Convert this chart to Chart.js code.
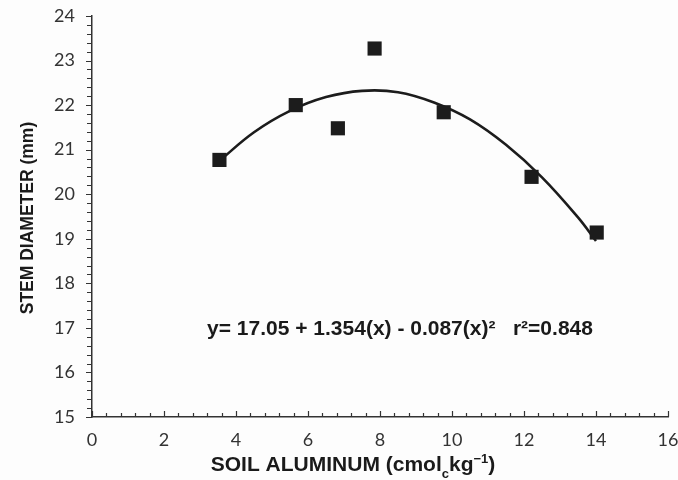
<!DOCTYPE html>
<html>
<head>
<meta charset="utf-8">
<script src="https://cdn.jsdelivr.net/npm/chart.js@4/dist/chart.umd.min.js"></script>
<style>
  html, body { margin: 0; padding: 0; background: #fdfdfd; }
  #wrap { width: 678px; height: 480px; }
</style>
</head>
<body>
<div id="wrap"><canvas id="chart" width="678" height="480"></canvas></div>
<script>
// measured points (soil aluminum vs stem diameter)
const soilAl = [3.54, 5.66, 6.83, 7.85, 9.77, 12.21, 14.02];
const stemDiam = [20.77, 22.0, 21.48, 23.27, 21.84, 20.39, 19.14];

// fitted curve
const fitX = [3.5, 4.5, 5.5, 6.5, 7.5, 8.5, 9.5, 10.5, 11.5, 12.5, 13.5, 14.0];
const fitY = [20.72, 21.39, 21.87, 22.18, 22.32, 22.29, 22.06, 21.68, 21.11, 20.38, 19.48, 18.95];

const xTickLabels = [0, 2, 4, 6, 8, 10, 12, 14, 16];
const yTickLabels = [15, 16, 17, 18, 19, 20, 21, 22, 23, 24];

const eqText = 'y= 17.05 + 1.354(x) - 0.087(x)\u00B2   r\u00B2=0.848';

const ink = '#1c1c1c';
const tickFont = '18px Lato, "Open Sans", sans-serif';

const bgPlugin = {
  id: 'bg',
  beforeDraw(chart) {
    const ctx = chart.ctx;
    ctx.save();
    ctx.fillStyle = '#fdfdfd';
    ctx.fillRect(0, 0, chart.width, chart.height);
    ctx.restore();
  }
};

// minor + major tick marks, x tick labels (the last one runs off the edge) and titles
const decoPlugin = {
  id: 'deco',
  afterDraw(chart) {
    const ctx = chart.ctx;
    const xs = chart.scales.x, ys = chart.scales.y;
    const x0 = xs.getPixelForValue(0);
    const y0 = ys.getPixelForValue(15);
    ctx.save();
    ctx.strokeStyle = '#333';
    ctx.lineWidth = 1.2;
    ctx.beginPath();
    for (let i = 0; i <= 45; i++) {
      const py = Math.round(ys.getPixelForValue(15 + i * 0.2)) + 0.5;
      const len = i % 5 === 0 ? 6 : 5;
      ctx.moveTo(x0 - len, py);
      ctx.lineTo(x0, py);
    }
    for (let i = 0; i <= 40; i++) {
      const px = Math.round(xs.getPixelForValue(i * 0.4)) + 0.5;
      const len = i % 5 === 0 ? 6 : 4;
      ctx.moveTo(px, y0);
      ctx.lineTo(px, y0 - len);
    }
    ctx.stroke();

    // x tick labels
    ctx.fillStyle = '#333';
    ctx.font = tickFont;
    ctx.textAlign = 'center';
    ctx.textBaseline = 'middle';
    xs.ticks.forEach(t => {
      ctx.fillText(String(t.value), xs.getPixelForValue(t.value), y0 + 23);
    });

    ctx.fillStyle = '#1a1a1a';

    // y title
    ctx.save();
    ctx.font = 'bold 17.5px "Liberation Sans", Arial, sans-serif';
    ctx.translate(28, 218);
    ctx.rotate(-Math.PI / 2);
    ctx.textAlign = 'center';
    ctx.fillText('STEM DIAMETER (mm)', 0, 0);
    ctx.restore();

    // x title with subscript c and superscript -1
    const main = 'SOIL ALUMINUM (cmol';
    const sub = 'c';
    const kg = 'kg';
    const sup = '\u22121';
    const close = ')';
    const big = 'bold 21px "Liberation Sans", Arial, sans-serif';
    const small = 'bold 13px "Liberation Sans", Arial, sans-serif';
    ctx.font = big;
    const wMain = ctx.measureText(main).width;
    const wKg = ctx.measureText(kg).width;
    const wClose = ctx.measureText(close).width;
    ctx.font = small;
    const wSub = ctx.measureText(sub).width;
    const wSup = ctx.measureText(sup).width;
    const total = wMain + wSub + wKg + wSup + wClose;
    let tx = 353 - total / 2;
    const ty = 465;
    ctx.textAlign = 'left';
    ctx.font = big; ctx.fillText(main, tx, ty); tx += wMain;
    ctx.font = small; ctx.fillText(sub, tx, ty + 9); tx += wSub;
    ctx.font = big; ctx.fillText(kg, tx, ty); tx += wKg;
    ctx.font = small; ctx.fillText(sup, tx, ty - 6); tx += wSup;
    ctx.font = big; ctx.fillText(close, tx, ty);

    // equation
    ctx.font = 'bold 21px "Liberation Sans", Arial, sans-serif';
    ctx.textAlign = 'center';
    ctx.fillText(eqText, 400, 329);
    ctx.restore();
  }
};

new Chart(document.getElementById('chart'), {
  type: 'scatter',
  data: {
    datasets: [
      {
        label: 'fit',
        type: 'line',
        data: fitX.map((x, i) => ({ x: x, y: fitY[i] })),
        borderColor: ink,
        borderWidth: 2.6,
        pointRadius: 0,
        tension: 0.4,
        fill: false,
        order: 2
      },
      {
        label: 'observed',
        data: soilAl.map((x, i) => ({ x: x, y: stemDiam[i] })),
        pointStyle: 'rect',
        pointRadius: 10,
        backgroundColor: ink,
        borderColor: ink,
        borderWidth: 0,
        order: 1
      }
    ]
  },
  options: {
    responsive: false,
    animation: false,
    layout: { padding: { top: 16, right: 7, left: 0, bottom: 0 } },
    plugins: { legend: { display: false }, tooltip: { enabled: false } },
    scales: {
      x: {
        type: 'linear',
        min: 0,
        max: 16,
        afterBuildTicks: (scale) => { scale.ticks = xTickLabels.map(v => ({ value: v })); },
        afterFit: (scale) => { scale.height = 63; },
        grid: { display: false, drawTicks: false },
        border: { display: true, color: '#333', width: 1.5 },
        ticks: { display: false }
      },
      y: {
        type: 'linear',
        min: 15,
        max: 24,
        afterBuildTicks: (scale) => { scale.ticks = yTickLabels.map(v => ({ value: v })); },
        afterFit: (scale) => { scale.width = 92; scale.paddingTop = 0; scale.paddingBottom = 0; },
        grid: { display: false, drawTicks: false },
        border: { display: true, color: '#333', width: 1.5 },
        ticks: {
          padding: 17,
          color: '#333',
          font: { family: 'Lato, "Open Sans", sans-serif', size: 18 }
        }
      }
    }
  },
  plugins: [bgPlugin, decoPlugin]
});
</script>
</body>
</html>
